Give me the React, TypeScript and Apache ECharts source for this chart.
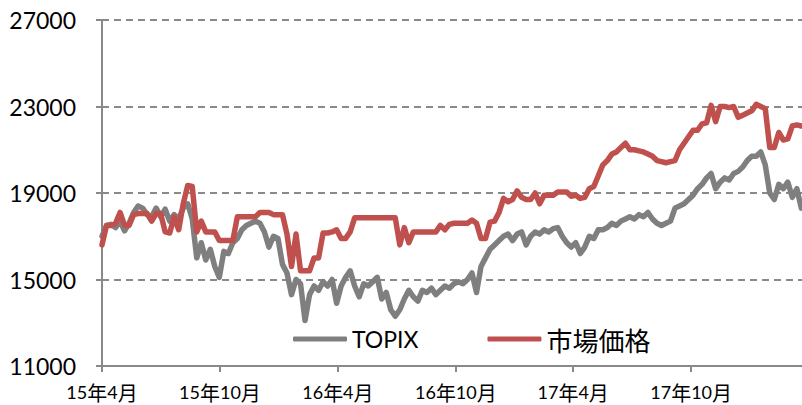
import React, { useEffect, useRef } from 'react';
import * as echarts from 'echarts';

// x-axis range and tick dates
const startDate = '2015-04-01';
const endDate = '2018-03-22';
const xTickDates = ['2015-04-01', '2015-10-01', '2016-04-01', '2016-10-01', '2017-04-01', '2017-10-01'];
const yMin = 11000;
const yMax = 27000;
const yStep = 4000;
const legendNames = ['TOPIX', '市場価格'];

// weekly readings, starting 2015-04-01
const topix = [
  17000, 17500, 17550, 17400, 17700, 17250, 17600, 18100, 18400, 18300,
  18000, 17900, 18300, 17900, 18250, 17700, 18000, 17800, 18300, 18500,
  17800, 16000, 16700, 15900, 16400, 15600, 15100, 16300, 16200, 16700,
  16900, 17300, 17500, 17600, 17700, 17600, 17200, 16500, 17000, 16900,
  15700, 15300, 14300, 15000, 14800, 13100, 14300, 14700, 14500, 14900,
  14700, 15000, 13900, 14700, 15100, 15400, 14700, 14200, 14800, 14700,
  14900, 15100, 14100, 14400, 13600, 13300, 13600, 14100, 14500, 14200,
  14000, 14500, 14400, 14600, 14300, 14500, 14700, 14600, 14800, 14900,
  14800, 15000, 15300, 14400, 15600, 16000, 16400, 16600, 16800, 17000,
  17100, 16800, 17100, 17200, 16600, 17000, 17200, 17100, 17300, 17200,
  17350, 17400, 17000, 16700, 16500, 16700, 16200, 16500, 17000, 16900,
  17300, 17300, 17400, 17600, 17500, 17700, 17800, 17900, 17800, 18000,
  17900, 18100, 17800, 17600, 17500, 17600, 17700, 18300, 18400, 18500,
  18700, 18900, 19200, 19400, 19700, 19900, 19200, 19500, 19700, 19600,
  19900, 20000, 20200, 20500, 20700, 20700, 20900, 20300, 19000, 18700,
  19400, 19200, 19500, 18800, 19200, 18300,
];

const market = [
  16600, 17500, 17500, 17600, 18100, 17500, 17500, 18000, 18050, 18050,
  18050, 17700, 18050, 18050, 17200, 17150, 17900, 17300, 18500, 19350,
  19300, 17200, 17700, 17200, 17200, 17200, 16800, 16800, 16800, 16800,
  17900, 17900, 17900, 17900, 17900, 18100, 18100, 18100, 18000, 18000,
  18000, 17100, 15600, 17100, 15400, 15400, 15400, 16000, 16000, 17150,
  17150, 17200, 17300, 16900, 16900, 17200, 17850, 17850, 17850, 17850,
  17850, 17850, 17850, 17850, 17850, 17850, 16600, 17400, 16700, 17200,
  17200, 17200, 17200, 17200, 17200, 17500, 17300, 17550, 17600, 17600,
  17600, 17600, 17750, 17600, 16900, 16900, 17650, 17700, 18100, 18750,
  18600, 18700, 19100, 18800, 18700, 18700, 19000, 18500, 18900, 18900,
  18900, 19050, 19050, 19050, 18850, 18900, 18750, 18800, 19200, 19300,
  19800, 20300, 20500, 20800, 20900, 21100, 21300, 21000, 21000, 20950,
  20900, 20800, 20700, 20500, 20450, 20400, 20450, 20500, 21000, 21300,
  21600, 21900, 21900, 22200, 22250, 23050, 22300, 23000, 23000, 22950,
  23000, 22500, 22600, 22700, 22800, 23100, 23000, 22900, 21100, 21100,
  21800, 21450, 21500, 22100, 22150, 22100,
];

const DAY = 86400000;
const toTs = (s: string) => {
  const [y, m, d] = s.split('-').map(Number);
  return Date.UTC(y, m - 1, d);
};
const startTs = toTs(startDate);
const weekTs = topix.map((_, i) => startTs + i * 7 * DAY);

const GREY = '#7f7f7f';
const RED = '#c0504d';
const AXIS = '#898989';

export default function App() {
  const ref = useRef<HTMLDivElement>(null);
  useEffect(() => {
    if (!ref.current) return;
    const chart = echarts.init(ref.current, undefined, { renderer: 'svg' });
    const xTicks = xTickDates.map(toTs);
    chart.setOption({
      animation: false,
      backgroundColor: '#ffffff',
      grid: { left: 102, right: 0, top: 20, bottom: 39, containLabel: false },
      legend: {
        left: 293,
        top: 326,
        padding: 0,
        itemWidth: 54,
        itemHeight: 5,
        itemGap: 69,
        icon: 'roundRect',
        data: legendNames,
        formatter: (name: string) => (name === 'TOPIX' ? `{a|${name}}` : `{b|${name}}`),
        textStyle: {
          color: '#000',
          rich: {
            a: { fontFamily: 'Lato', fontSize: 23, color: '#000' },
            b: { fontFamily: '"Noto Sans CJK JP"', fontSize: 26, color: '#000' },
          },
        },
      },
      xAxis: {
        type: 'value',
        min: startTs,
        max: toTs(endDate),
        axisLine: { show: true, lineStyle: { color: AXIS, width: 2 } },
        axisTick: {
          show: true,
          customValues: xTicks,
          length: 6,
          lineStyle: { color: AXIS, width: 2 },
        },
        splitLine: { show: false },
        axisLabel: {
          customValues: xTicks,
          margin: 16,
          formatter: (v: number) => {
            const d = new Date(v);
            const yy = String(d.getUTCFullYear() % 100);
            const m = String(d.getUTCMonth() + 1);
            return `{d|${yy}}{c|年}{d|${m}}{c|月}`;
          },
          rich: {
            d: { fontFamily: 'Lato', fontSize: 18, color: '#000' },
            c: { fontFamily: '"Noto Sans CJK JP"', fontSize: 20, color: '#000' },
          },
        },
      },
      yAxis: {
        type: 'value',
        min: yMin,
        max: yMax,
        interval: yStep,
        axisLine: { show: true, lineStyle: { color: AXIS, width: 2 } },
        axisTick: { show: true, length: 6, lineStyle: { color: AXIS, width: 2 } },
        axisLabel: {
          margin: 26,
          fontFamily: 'Lato',
          fontSize: 23,
          color: '#000',
          formatter: (v: number) => String(v),
        },
        splitLine: {
          show: true,
          lineStyle: { color: AXIS, width: 2, type: [7, 5] },
        },
      },
      series: [
        {
          name: 'TOPIX',
          type: 'line',
          data: topix.map((v, i) => [weekTs[i], v]),
          symbol: 'none',
          lineStyle: { color: GREY, width: 5.5, join: 'round', cap: 'round' },
          itemStyle: { color: GREY },
        },
        {
          name: '市場価格',
          type: 'line',
          data: market.map((v, i) => [weekTs[i], v]),
          symbol: 'none',
          lineStyle: { color: RED, width: 5.5, join: 'round', cap: 'round' },
          itemStyle: { color: RED },
        },
      ],
    });
    return () => chart.dispose();
  }, []);
  return (
    <div
      ref={ref}
      style={{ position: 'fixed', left: 0, top: 0, width: 802, height: 405, background: '#fff' }}
    />
  );
}
